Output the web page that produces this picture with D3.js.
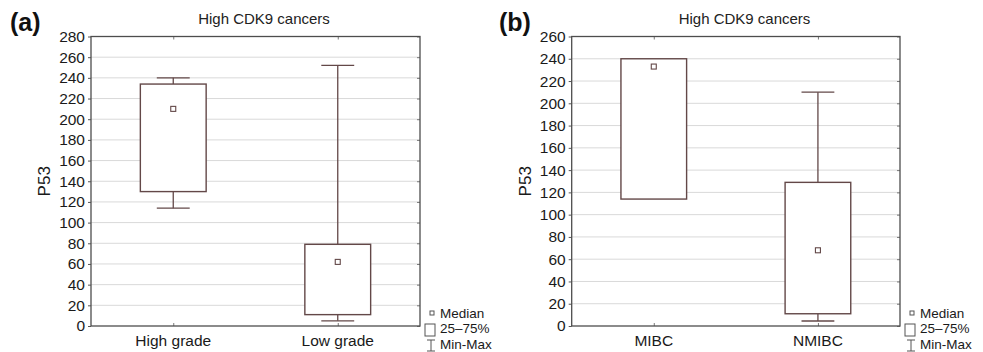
<!DOCTYPE html>
<html>
<head>
<meta charset="utf-8">
<script src="https://cdn.jsdelivr.net/npm/d3@7"></script>
<style>
  body { margin: 0; background: #fff; }
  svg { display: block; font-family: Arial, "Liberation Sans", sans-serif; }
</style>
</head>
<body>
<svg id="chart" width="983" height="352"></svg>
<script>
// panel (a): grade
var gradeCats = ["High grade", "Low grade"];
var gradeMin = [114, 5];
var gradeQ1 = [130, 11];
var gradeMedian = [210, 62];
var gradeQ3 = [234, 79];
var gradeMax = [240, 252];
var gradeTicks = [0, 20, 40, 60, 80, 100, 120, 140, 160, 180, 200, 220, 240, 260, 280];

// panel (b): invasiveness
var invCats = ["MIBC", "NMIBC"];
var invMin = [114, 4.5];
var invQ1 = [114, 11];
var invMedian = [233, 68];
var invQ3 = [240, 129];
var invMax = [240, 210];
var invTicks = [0, 20, 40, 60, 80, 100, 120, 140, 160, 180, 200, 220, 240, 260];

var legendLabels = ["Median", "25\u201375%", "Min-Max"];

var boxColor = "#634848";
var svg = d3.select("#chart");

function drawPanel(opt) {
    var left = opt.left, right = opt.right, top = 36.5, bottom = 326;
    var g = svg.append("g");

    var x = d3.scalePoint().domain(opt.cats).range([left, right]).padding(0.5);
    var y = d3.scaleLinear().domain([0, d3.max(opt.ticks)]).range([bottom, top]);
    var step = x.step();

    // grid lines
    g.selectAll(".grid")
        .data(opt.ticks.slice(1, -1))
        .enter().append("line")
        .attr("x1", left).attr("x2", right)
        .attr("y1", d => y(d)).attr("y2", d => y(d))
        .attr("stroke", "#d9d9d9").attr("stroke-width", 1);

    // axes
    var yAxis = g.append("g")
        .attr("transform", "translate(" + left + ",0)")
        .call(d3.axisLeft(y).tickValues(opt.ticks).tickSize(3).tickPadding(3));
    yAxis.select(".domain").remove();
    yAxis.selectAll("text").attr("font-size", "15.5px").attr("fill", "#1a1a1a");
    yAxis.selectAll("line").attr("stroke", "#555");

    var rAxis = g.append("g")
        .attr("transform", "translate(" + right + ",0)")
        .call(d3.axisLeft(y).tickValues(opt.ticks).tickSize(3).tickFormat(""));
    rAxis.select(".domain").remove();
    rAxis.selectAll("line").attr("stroke", "#777");

    var xAxis = g.append("g")
        .attr("transform", "translate(0," + bottom + ")")
        .call(d3.axisTop(x).tickSize(3).tickFormat(""));
    xAxis.select(".domain").remove();
    xAxis.selectAll("line").attr("stroke", "#777");

    g.selectAll(".xlab").data(opt.cats).enter().append("text")
        .attr("x", d => x(d)).attr("y", 346)
        .attr("text-anchor", "middle").attr("font-size", "15.5px").attr("fill", "#1a1a1a")
        .text(d => d);

    var tAxis = g.append("g")
        .attr("transform", "translate(0," + top + ")")
        .call(d3.axisBottom(x).tickSize(3).tickFormat(""));
    tAxis.select(".domain").remove();
    tAxis.selectAll("line").attr("stroke", "#777");

    // frame
    g.append("rect")
        .attr("x", left).attr("y", top)
        .attr("width", right - left).attr("height", bottom - top)
        .attr("fill", "none").attr("stroke", "#4d4d4d").attr("stroke-width", 1.3);

    // boxes
    var boxW = step * 0.4, capW = step * 0.2;
    var items = opt.cats.map((c, i) => ({
        cat: c, min: opt.min[i], q1: opt.q1[i], med: opt.median[i], q3: opt.q3[i], max: opt.max[i]
    }));
    var b = g.selectAll(".box").data(items).enter().append("g");

    b.append("line")
        .attr("x1", d => x(d.cat)).attr("x2", d => x(d.cat))
        .attr("y1", d => y(d.max)).attr("y2", d => y(d.q3))
        .attr("stroke", boxColor).attr("stroke-width", 1.3);
    b.append("line")
        .attr("x1", d => x(d.cat)).attr("x2", d => x(d.cat))
        .attr("y1", d => y(d.q1)).attr("y2", d => y(d.min))
        .attr("stroke", boxColor).attr("stroke-width", 1.3);
    b.filter(d => d.max > d.q3).append("line")
        .attr("x1", d => x(d.cat) - capW / 2).attr("x2", d => x(d.cat) + capW / 2)
        .attr("y1", d => y(d.max)).attr("y2", d => y(d.max))
        .attr("stroke", boxColor).attr("stroke-width", 1.3);
    b.filter(d => d.min < d.q1).append("line")
        .attr("x1", d => x(d.cat) - capW / 2).attr("x2", d => x(d.cat) + capW / 2)
        .attr("y1", d => y(d.min)).attr("y2", d => y(d.min))
        .attr("stroke", boxColor).attr("stroke-width", 1.3);
    b.append("rect")
        .attr("x", d => x(d.cat) - boxW / 2).attr("width", boxW)
        .attr("y", d => y(d.q3)).attr("height", d => y(d.q1) - y(d.q3))
        .attr("fill", "#fff").attr("stroke", boxColor).attr("stroke-width", 1.4);
    b.append("rect")
        .attr("x", d => x(d.cat) - 2.5).attr("y", d => y(d.med) - 2.5)
        .attr("width", 5).attr("height", 5)
        .attr("fill", "#fff").attr("stroke", boxColor).attr("stroke-width", 1.1);

    // titles
    svg.append("text")
        .attr("x", opt.titleX).attr("y", 24)
        .attr("text-anchor", "middle").attr("font-size", "15px").attr("fill", "#222")
        .text("High CDK9 cancers");
    svg.append("text")
        .attr("transform", "translate(" + (left - 47) + "," + ((top + bottom) / 2) + ") rotate(-90)")
        .attr("text-anchor", "middle").attr("font-size", "17px").attr("fill", "#1a1a1a")
        .attr("dy", "0.35em")
        .text("P53");
    svg.append("text")
        .attr("x", opt.letterX).attr("y", 31)
        .attr("font-size", "25px").attr("font-weight", "bold").attr("fill", "#111")
        .text(opt.letter);

    // legend
    var lx = right + 4, ly = 313;
    var lg = svg.append("g").attr("transform", "translate(" + lx + "," + ly + ")");
    lg.append("rect").attr("x", 6).attr("y", -2).attr("width", 4).attr("height", 4)
        .attr("fill", "#fff").attr("stroke", "#555").attr("stroke-width", 1);
    lg.append("rect").attr("x", 1).attr("y", 11).attr("width", 10).attr("height", 12)
        .attr("fill", "#fff").attr("stroke", "#555").attr("stroke-width", 1);
    lg.append("path").attr("d", "M3,27H11M7,27V38M3,38H11")
        .attr("fill", "none").attr("stroke", "#555").attr("stroke-width", 1);
    lg.selectAll(".lt").data(legendLabels).enter().append("text")
        .attr("x", 16).attr("y", (d, i) => 4.5 + i * 15.5)
        .attr("font-size", "13.5px").attr("fill", "#1a1a1a")
        .text(d => d);
}

drawPanel({
    cats: gradeCats, min: gradeMin, q1: gradeQ1, median: gradeMedian, q3: gradeQ3, max: gradeMax,
    ticks: gradeTicks, left: 91, right: 420, titleX: 264, letterX: 10, letter: "(a)"
});
drawPanel({
    cats: invCats, min: invMin, q1: invQ1, median: invMedian, q3: invQ3, max: invMax,
    ticks: invTicks, left: 571.7, right: 900, titleX: 744.5, letterX: 499, letter: "(b)"
});
</script>
</body>
</html>
